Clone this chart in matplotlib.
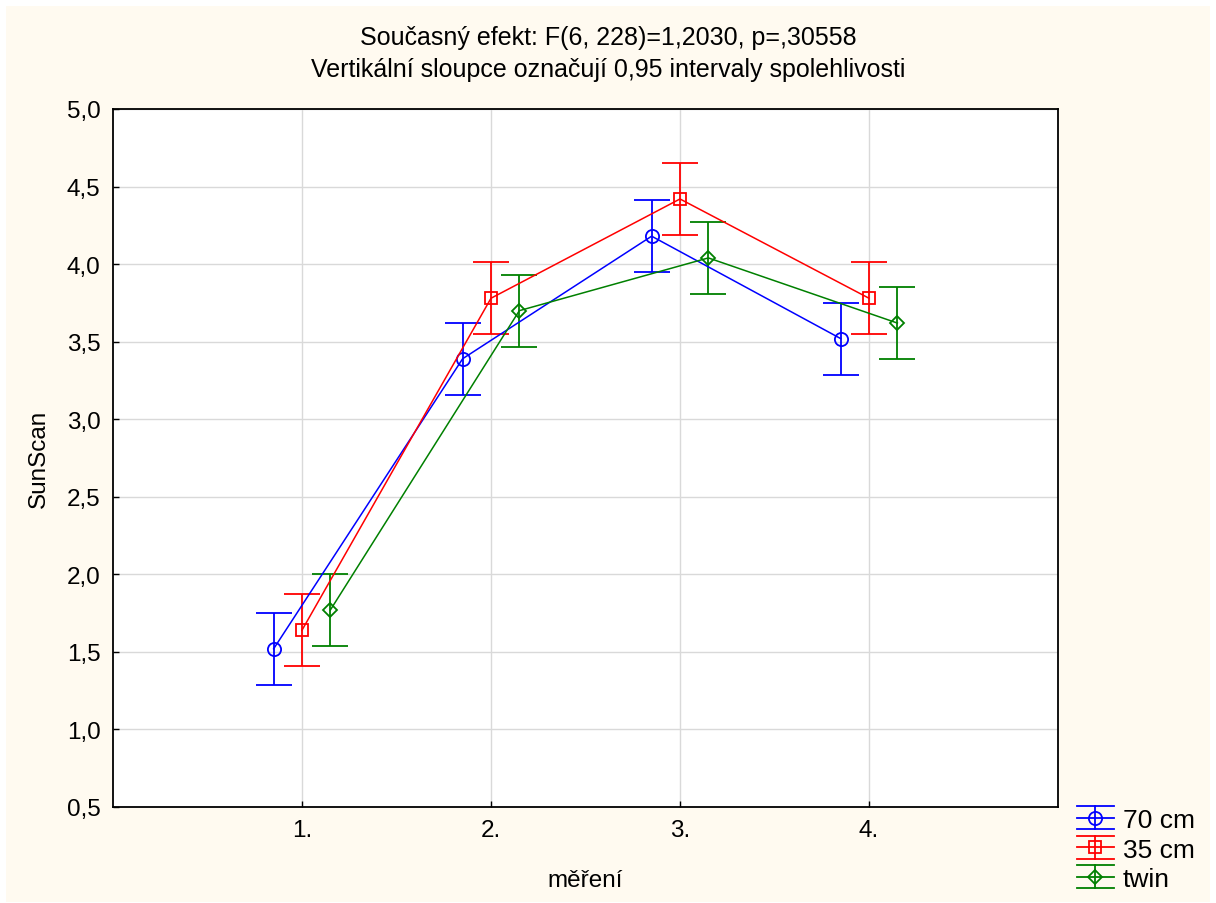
import matplotlib
matplotlib.use("Agg")
import matplotlib.pyplot as plt
from matplotlib.patches import Rectangle
from matplotlib.lines import Line2D
from matplotlib.legend_handler import HandlerBase
import numpy as np

plt.rcParams['font.family'] = ['Liberation Sans', 'DejaVu Sans']

measurements = ["1.", "2.", "3.", "4."]
series_names = ["70 cm", "35 cm", "twin"]
series_colors = ["#0000ff", "#ff0000", "#008000"]
series_markers = ["o", "s", "D"]
values_70 = [1.52, 3.39, 4.18, 3.52]
values_35 = [1.64, 3.78, 4.42, 3.78]
values_twin = [1.77, 3.70, 4.04, 3.62]
ci_half = [0.232, 0.232, 0.232]
offsets = [-0.15, 0.0, 0.15]

FS = 17.5
W, H = 1216, 904


class ErrorKeyHandler(HandlerBase):
    """Legend key: line with full-width caps above and below the marker."""

    def create_artists(self, legend, orig_handle, xdescent, ydescent,
                       width, height, fontsize, trans):
        line = orig_handle.lines[0]
        col = line.get_color()
        x0, x1 = -xdescent, -xdescent + width
        xm = (x0 + x1) / 2
        ym = -ydescent + height / 2
        h = 0.43 * fontsize
        lw = 1.3
        arts = [
            Line2D([x0, x1], [ym, ym], color=col, lw=lw),
            Line2D([xm, xm], [ym - h, ym + h], color=col, lw=lw),
            Line2D([x0, x1], [ym - h, ym - h], color=col, lw=lw),
            Line2D([x0, x1], [ym + h, ym + h], color=col, lw=lw),
            Line2D([xm], [ym], marker=line.get_marker(), ms=line.get_markersize(),
                   mfc="none", mec=col, mew=1.3, ls="none"),
        ]
        for a in arts:
            a.set_transform(trans)
        return arts


fig = plt.figure(figsize=(W / 100, H / 100), dpi=100, facecolor="white")
fig.patches.append(Rectangle((6 / W, 1 / H), 1204 / W, 896 / H,
                             transform=fig.transFigure, facecolor="#fffaf0",
                             edgecolor="none", zorder=-10))

ax = fig.add_axes([113 / W, 1 - 808 / H, 945 / W, 698 / H])
ax.set_facecolor("white")

x = np.arange(1, len(measurements) + 1)
containers = []
for vals, name, col, mk, off, ci, ms in zip(
        [values_70, values_35, values_twin], series_names, series_colors,
        series_markers, offsets, ci_half, [9.5, 8.5, 7.5]):
    c = ax.errorbar(x + off, vals, yerr=ci, color=col, marker=mk, ms=ms,
                    mfc="none", mec=col, mew=1.3, lw=1.1, elinewidth=1.3,
                    capsize=13, capthick=1.3, label=name, zorder=3)
    containers.append(c)

ax.set_xlim(0, 5)
ax.set_ylim(0.5, 5.0)
ax.set_xticks(x)
ax.set_xticklabels(measurements)
yt = np.arange(0.5, 5.01, 0.5)
ax.set_yticks(yt)
ax.set_yticklabels([f"{v:.1f}".replace(".", ",") for v in yt])
ax.grid(True, color="#d9d9d9", lw=1.0, zorder=0)
ax.tick_params(direction="in", length=4, width=1, labelsize=FS, pad=9,
               top=False, right=False)
for sp in ax.spines.values():
    sp.set_linewidth(1.3)
    sp.set_color("black")

ax.set_xlabel("měření", fontsize=FS, labelpad=20)
ax.set_ylabel("SunScan", fontsize=FS, labelpad=12)

fig.text(0.5, 1 - 38 / H, "Současný efekt: F(6, 228)=1,2030, p=,30558",
         ha="center", va="center", fontsize=18)
fig.text(0.5, 1 - 70 / H, "Vertikální sloupce označují 0,95 intervaly spolehlivosti",
         ha="center", va="center", fontsize=18)

leg = fig.legend(containers, series_names, loc="upper left",
                 bbox_to_anchor=(1077 / W, 1 - 809 / H),
                 frameon=False, fontsize=19, handlelength=1.4,
                 handletextpad=0.34, labelspacing=0.21, borderpad=0.0,
                 borderaxespad=0.0,
                 handler_map={type(containers[0]): ErrorKeyHandler()})

fig.savefig("out.png", dpi=100, facecolor=fig.get_facecolor())
